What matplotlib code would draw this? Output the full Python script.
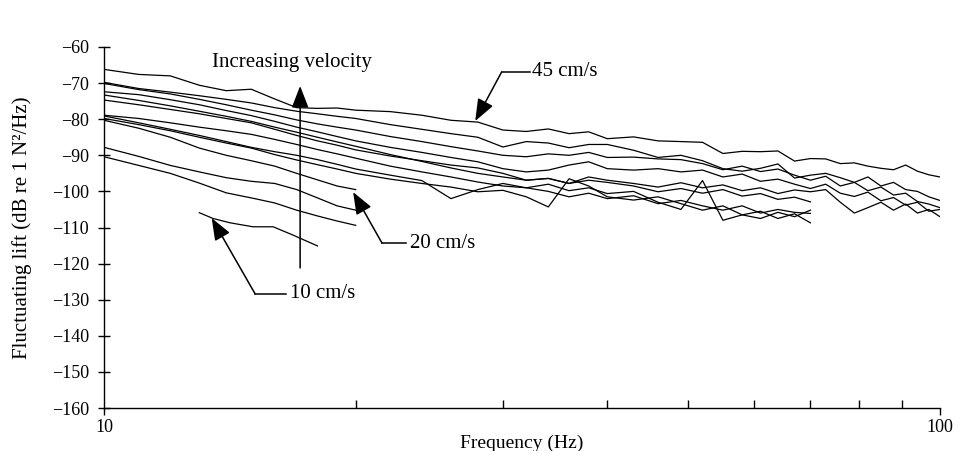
import matplotlib
matplotlib.use('Agg')
import matplotlib.pyplot as plt
from matplotlib.ticker import FixedLocator, NullFormatter

plt.rcParams['font.family'] = ['Liberation Serif', 'DejaVu Serif']

# frequency grid (Hz)
freq = [10, 11, 12, 13, 14, 15, 16, 17, 18, 19, 20, 22, 24, 26, 28, 30, 32, 34, 36, 38,
        40, 43, 46, 49, 52, 55, 58, 61, 64, 67, 70, 73, 76, 79, 82, 85, 88, 91, 94, 97, 100]

# runs measured up to 100 Hz (top one is 45 cm/s)
full_1 = [-66.2, -67.6, -68.0, -70.6, -72.1, -71.7, -74.4, -76.8, -77.0, -76.9, -77.5, -77.9, -78.9,
          -80.3, -80.8, -83.0, -83.4, -82.7, -84.0, -83.5, -85.4, -84.9, -86.0, -86.2, -86.4, -89.5,
          -88.9, -89.0, -88.8, -91.6, -90.9, -91.0, -92.3, -92.1, -93.0, -93.6, -94.0, -92.7, -94.4,
          -95.4, -96.0]
full_2 = [-69.8, -71.5, -72.5, -73.5, -74.5, -75.5, -76.8, -77.8, -78.5, -79.2, -79.8, -81.5, -82.8,
          -84.0, -85.0, -87.7, -86.2, -86.6, -87.9, -87.0, -87.0, -88.6, -90.6, -90.0, -91.5, -93.7,
          -94.4, -93.6, -92.4, -96.3, -95.5, -95.0, -96.2, -97.5, -96.0, -98.5, -97.5, -99.5, -100.0,
          -101.5, -102.5]
full_3 = [-70.1, -71.8, -73.0, -74.5, -76.0, -77.5, -78.8, -80.2, -81.3, -82.2, -83.0, -84.8, -86.2,
          -87.6, -88.8, -90.0, -90.4, -89.6, -90.0, -89.2, -90.6, -90.5, -91.0, -91.2, -92.3, -94.0,
          -93.0, -94.5, -93.8, -95.5, -96.9, -95.8, -98.5, -97.5, -99.8, -98.8, -101.0, -100.5, -102.8,
          -103.5, -104.5]
full_4 = [-72.4, -73.2, -74.6, -76.0, -77.6, -79.0, -80.6, -82.2, -83.5, -84.8, -86.0, -87.8, -89.2,
          -90.6, -91.8, -93.7, -94.6, -94.1, -92.7, -91.8, -93.7, -94.1, -93.7, -94.6, -94.1, -96.0,
          -95.2, -97.2, -96.6, -98.0, -99.2, -98.0, -100.5, -101.4, -100.2, -102.6, -101.7, -103.8,
          -103.0, -105.5, -105.0]
full_5 = [-73.3, -74.8, -76.3, -77.8, -79.2, -80.6, -82.2, -83.6, -85.0, -86.3, -87.5, -89.8, -91.7,
          -93.5, -95.0, -96.0, -96.9, -96.4, -97.8, -96.0, -96.9, -97.8, -98.8, -97.6, -99.0, -98.2,
          -99.8, -99.0, -100.6, -99.6, -100.1, -99.5, -103.0, -106.0, -104.5, -103.0, -105.2, -103.5,
          -106.0, -105.0, -107.0]

# runs measured up to 70 Hz
mid_1 = [-74.7, -76.0, -77.3, -78.5, -79.8, -81.0, -82.8, -84.5, -86.0, -87.2, -88.5, -90.2, -91.5,
         -92.7, -93.5, -95.0, -96.9, -96.4, -97.8, -96.9, -97.5, -98.5, -100.1, -99.2, -100.5, -99.5,
         -101.3, -100.6, -102.2, -101.6, -102.9]
mid_2 = [-78.9, -79.8, -81.0, -82.2, -83.2, -84.2, -85.6, -87.0, -88.4, -89.6, -90.8, -93.0, -94.6,
         -96.0, -97.4, -98.5, -99.0, -98.0, -99.8, -99.0, -100.6, -100.0, -103.0, -105.0, -97.0, -108.0,
         -106.5, -107.5, -105.8, -107.0, -105.2]
mid_3 = [-79.1, -81.0, -82.8, -84.5, -86.2, -87.8, -89.0, -90.0, -91.2, -92.5, -93.8, -95.5, -97.0,
         -102.0, -99.5, -97.8, -99.0, -100.0, -101.5, -100.5, -102.0, -101.2, -103.4, -102.5, -104.0,
         -105.2, -104.0, -106.0, -105.0, -105.8, -106.1]
mid_4 = [-79.8, -81.5, -83.2, -85.0, -86.6, -88.0, -89.8, -91.3, -92.6, -93.8, -95.0, -96.6, -97.8,
         -98.8, -100.1, -99.7, -101.5, -104.3, -96.5, -98.5, -101.5, -102.4, -101.5, -103.4, -105.2,
         -104.0, -106.5, -105.5, -107.5, -106.2, -108.7]

# runs measured up to 20 Hz (first one is 20 cm/s)
short_1 = [-80.3, -82.5, -85.0, -88.0, -90.0, -91.5, -93.0, -95.0, -96.8, -98.5, -99.5]
short_2 = [-87.8, -90.3, -92.8, -94.6, -96.2, -97.2, -97.8, -99.5, -101.8, -104.0, -105.2]
short_3 = [-90.4, -92.8, -95.0, -97.7, -100.4, -101.8, -103.2, -105.2, -106.8, -108.2, -109.4]

# 10 cm/s run
freq_10 = [13.0, 13.5, 14.15, 15.07, 15.93, 16.83, 18.0]
lift_10 = [-105.9, -107.5, -108.7, -109.8, -109.8, -112.1, -115.1]

runs = [full_1, full_2, full_3, full_4, full_5, mid_1, mid_2, mid_3, mid_4,
        short_1, short_2, short_3]

fig = plt.figure(figsize=(9.64, 4.51), dpi=100)
ax = fig.add_axes([0.108, 0.0953, 0.867, 0.8005])

for r in runs:
    ax.plot(freq[:len(r)], r, color='black', lw=0.9)
ax.plot(freq_10, lift_10, color='black', lw=0.9)

ax.set_xscale('log')
ax.set_xlim(10, 100)
ax.set_ylim(-160, -60)
ax.set_yticks(range(-160, -59, 10))
ax.set_xticks([10, 100])
ax.set_xticklabels(['10', '100'])
ax.xaxis.set_minor_locator(FixedLocator([20, 30, 40, 50, 60, 70, 80, 90]))
ax.xaxis.set_minor_formatter(NullFormatter())

for s in ['top', 'right']:
    ax.spines[s].set_visible(False)
for s in ['left', 'bottom']:
    ax.spines[s].set_linewidth(1.0)

ax.tick_params(axis='y', direction='inout', length=8, width=1, pad=7, labelsize=13)
ax.tick_params(axis='x', which='major', direction='out', length=5, width=1, pad=3, labelsize=13)
ax.tick_params(axis='x', which='minor', direction='in', length=6, width=1)

ax.set_xlabel('Frequency (Hz)', fontsize=14, labelpad=-1)
ax.set_ylabel('Fluctuating lift (dB re 1 N\u00b2/Hz)', fontsize=15, labelpad=14)

head = dict(arrowstyle='-|>,head_length=0.9,head_width=0.35', color='black',
            lw=1.1, mutation_scale=15, shrinkA=0, shrinkB=0)

# increasing velocity arrow
ax.annotate('', xy=(17.16, -70.8), xytext=(17.16, -121.2), arrowprops=head)
ax.text(16.8, -64.2, 'Increasing velocity', fontsize=15, ha='center', va='center')

# 45 cm/s
ax.annotate('', xy=(27.8, -80.5), xytext=(29.9, -66.9), arrowprops=head)
ax.plot([29.9, 32.3], [-66.9, -66.9], color='black', lw=1.1)
ax.text(32.5, -66.9, '45 cm/s', fontsize=15, ha='left', va='center')

# 20 cm/s
ax.annotate('', xy=(19.86, -100.2), xytext=(21.5, -114.3), arrowprops=head)
ax.plot([21.5, 23.0], [-114.3, -114.3], color='black', lw=1.1)
ax.text(23.2, -114.3, '20 cm/s', fontsize=15, ha='left', va='center')

# 10 cm/s
ax.annotate('', xy=(13.45, -107.4), xytext=(15.16, -128.4), arrowprops=head)
ax.plot([15.16, 16.5], [-128.4, -128.4], color='black', lw=1.1)
ax.text(16.7, -128.4, '10 cm/s', fontsize=15, ha='left', va='center')

fig.savefig('out.png', dpi=100)
